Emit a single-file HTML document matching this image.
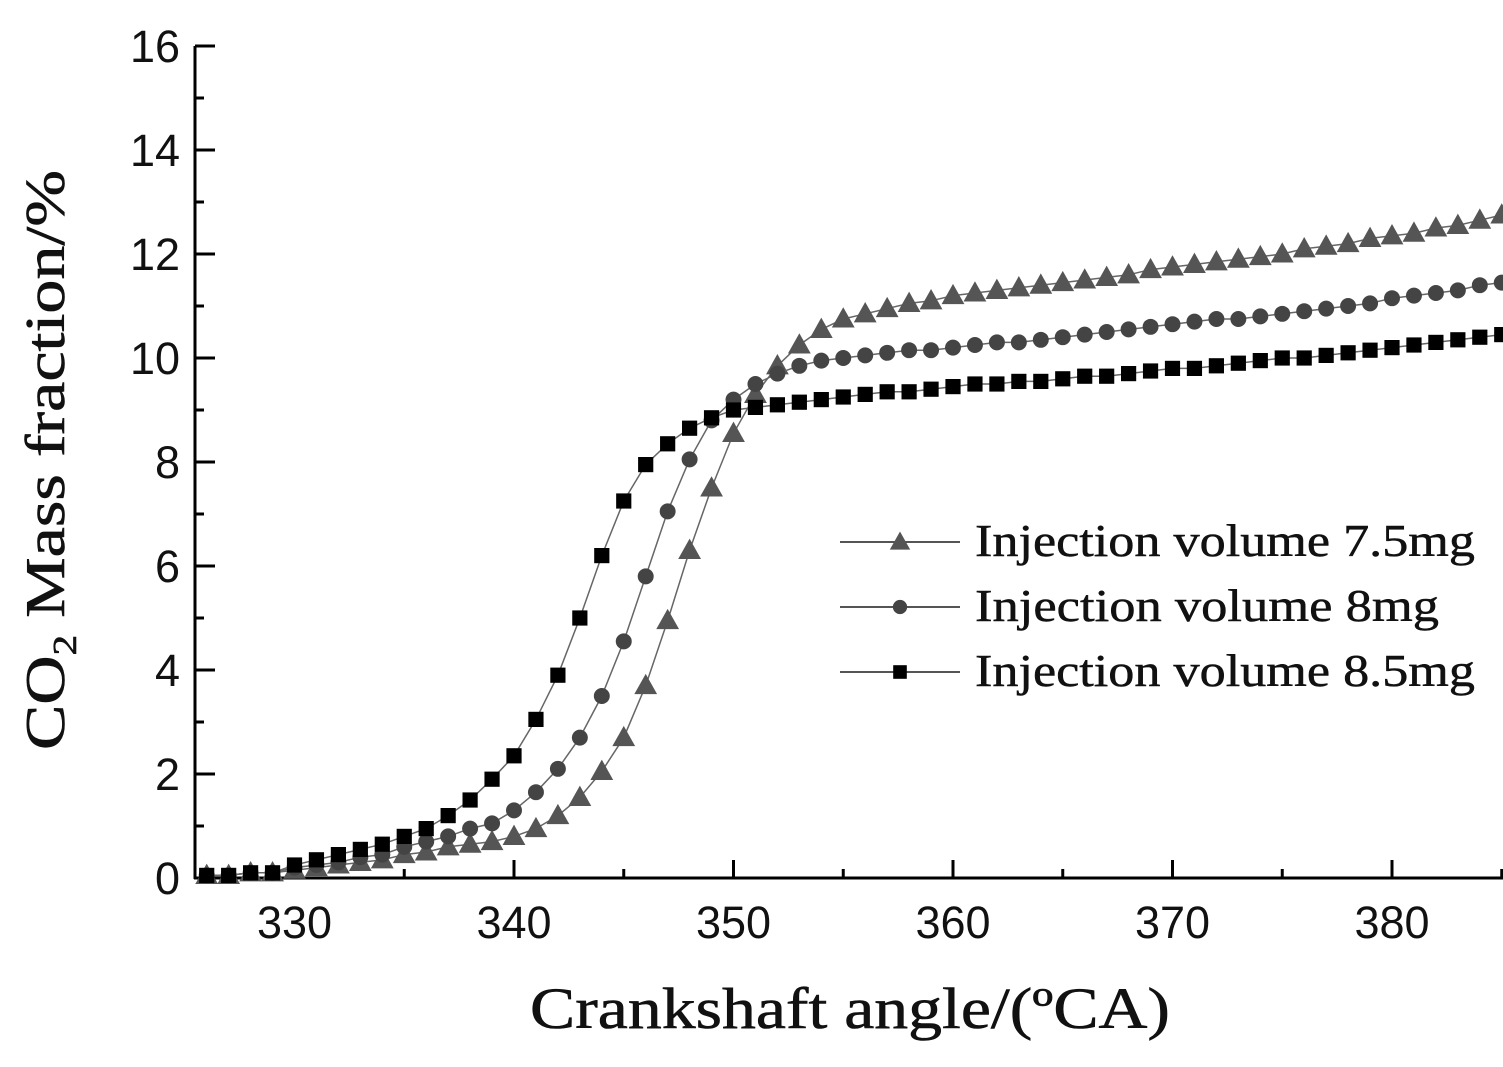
<!DOCTYPE html>
<html><head><meta charset="utf-8"><style>
html,body{margin:0;padding:0;background:#fff;}
svg{display:block;}
</style></head><body>
<svg id="chart" width="1503" height="1067" viewBox="0 0 1503 1067" xmlns="http://www.w3.org/2000/svg">
<g id="axes"></g>
<g id="series"></g>
<g id="legend"></g>
<text x="530" y="1028" textLength="640" lengthAdjust="spacingAndGlyphs" font-family="Liberation Serif, serif" font-size="58" fill="#111" stroke="#111" stroke-width="0.6">Crankshaft angle/(ºCA)</text>
<text transform="translate(64,750) rotate(-90)" textLength="580" lengthAdjust="spacingAndGlyphs" font-family="Liberation Serif, serif" font-size="56" fill="#111" stroke="#111" stroke-width="0.6">CO<tspan font-size="34" dy="12">2</tspan><tspan dy="-12"> Mass fraction/%</tspan></text>
</svg>
<script>
const angles=[326,327,328,329,330,331,332,333,334,335,336,337,338,339,340,341,342,343,344,345,346,347,348,349,350,351,352,353,354,355,356,357,358,359,360,361,362,363,364,365,366,367,368,369,370,371,372,373,374,375,376,377,378,379,380,381,382,383,384,385];
const s75=[0.05,0.05,0.1,0.1,0.15,0.2,0.25,0.3,0.35,0.45,0.5,0.6,0.65,0.7,0.8,0.95,1.2,1.55,2.05,2.7,3.7,4.95,6.3,7.5,8.55,9.3,9.85,10.25,10.55,10.75,10.85,10.95,11.05,11.1,11.2,11.25,11.3,11.35,11.4,11.45,11.5,11.55,11.6,11.7,11.75,11.8,11.85,11.9,11.95,12.0,12.1,12.15,12.2,12.3,12.35,12.4,12.5,12.55,12.65,12.75];
const s80=[0.05,0.05,0.1,0.1,0.2,0.25,0.3,0.4,0.45,0.6,0.7,0.8,0.95,1.05,1.3,1.65,2.1,2.7,3.5,4.55,5.8,7.05,8.05,8.8,9.2,9.5,9.7,9.85,9.95,10.0,10.05,10.1,10.15,10.15,10.2,10.25,10.3,10.3,10.35,10.4,10.45,10.5,10.55,10.6,10.65,10.7,10.75,10.75,10.8,10.85,10.9,10.95,11.0,11.05,11.15,11.2,11.25,11.3,11.4,11.45];
const s85=[0.05,0.05,0.1,0.1,0.25,0.35,0.45,0.55,0.65,0.8,0.95,1.2,1.5,1.9,2.35,3.05,3.9,5.0,6.2,7.25,7.95,8.35,8.65,8.85,9.0,9.05,9.1,9.15,9.2,9.25,9.3,9.35,9.35,9.4,9.45,9.5,9.5,9.55,9.55,9.6,9.65,9.65,9.7,9.75,9.8,9.8,9.85,9.9,9.95,10.0,10.0,10.05,10.1,10.15,10.2,10.25,10.3,10.35,10.4,10.45];
const xTicks=[330,340,350,360,370,380];
const yTicks=[0,2,4,6,8,10,12,14,16];
const seriesNames=["Injection volume 7.5mg","Injection volume 8mg","Injection volume 8.5mg"];

const NS="http://www.w3.org/2000/svg";
const X0=195,Y0=878;
function xs(v){return 514+(v-340)*21.95;}
function ys(v){return Y0-v*52;}
function mk(tag,attrs,parent){const e=document.createElementNS(NS,tag);for(const k in attrs)e.setAttribute(k,attrs[k]);parent.appendChild(e);return e;}
const axes=document.getElementById('axes');
let e=mk('line',{x1:X0,y1:46,x2:X0,y2:Y0+1,stroke:'#000','stroke-width':3},axes);


e=mk('line',{x1:X0-1,y1:Y0,x2:1503,y2:Y0,stroke:'#000','stroke-width':3},axes);


xTicks.forEach(t=>{
  let l=mk('line',{x1:xs(t),y1:Y0,x2:xs(t),y2:Y0-18,stroke:'#000','stroke-width':3},axes);
  
  
  let m=mk('line',{x1:xs(t+5),y1:Y0,x2:xs(t+5),y2:Y0-9,stroke:'#000','stroke-width':3},axes);
  
  
  let tx=mk('text',{x:xs(t),y:938,'font-family':'Liberation Sans, sans-serif','font-size':45,'text-anchor':'middle',fill:'#111'},axes);
  tx.textContent=t;
  
  
});
yTicks.forEach(t=>{
  let l=mk('line',{x1:X0,y1:ys(t),x2:X0+20,y2:ys(t),stroke:'#000','stroke-width':3},axes);
  
  
  if(t<16){let m=mk('line',{x1:X0,y1:ys(t+1),x2:X0+9,y2:ys(t+1),stroke:'#000','stroke-width':3},axes);
  
  }
  let tx=mk('text',{x:180,y:ys(t)+16,'font-family':'Liberation Sans, sans-serif','font-size':45,'text-anchor':'end',fill:'#111'},axes);
  tx.textContent=t;
  
  
});
function marker(g,type,x,y,s,color){
  let m;
  if(type==='tri') m=mk('polygon',{points:`${x},${y-s*0.62} ${x-s*0.6},${y+s*0.45} ${x+s*0.6},${y+s*0.45}`,fill:color},g);
  else if(type==='circ') m=mk('circle',{cx:x,cy:y,r:s*0.42,fill:color},g);
  else m=mk('rect',{x:x-s*0.4,y:y-s*0.4,width:s*0.8,height:s*0.8,fill:color},g);
  return m;
}
const sdefs=[[s75,'tri','#555'],[s80,'circ','#444'],[s85,'sq','#000']];
const sg=document.getElementById('series');
sdefs.forEach((d,i)=>{
  const g=mk('g',{},sg);
  
  
  const pts=angles.map((a,j)=>xs(a)+','+ys(d[0][j])).join(' ');
  let pl=mk('polyline',{points:pts,fill:'none',stroke:'#666','stroke-width':1.5},g);
  
  
  angles.forEach((a,j)=>{
    let m=marker(g,d[1],xs(a),ys(d[0][j]),19,d[2]);
    
    
  });
});
const lg=document.getElementById('legend');
const ly=[542,607,672];
const lw=[500,464,500];
sdefs.forEach((d,i)=>{
  let l=mk('line',{x1:840,y1:ly[i],x2:960,y2:ly[i],stroke:'#555','stroke-width':2},lg);
  
  
  let m=marker(lg,d[1],900,ly[i],17,d[2]);
  
  
  let t=mk('text',{x:975,y:ly[i]+14,textLength:lw[i],lengthAdjust:'spacingAndGlyphs','font-family':'Liberation Serif, serif','font-size':46,fill:'#111',stroke:'#111','stroke-width':0.5},lg);
  t.textContent=seriesNames[i];
  
  
});
</script>
</body></html>
